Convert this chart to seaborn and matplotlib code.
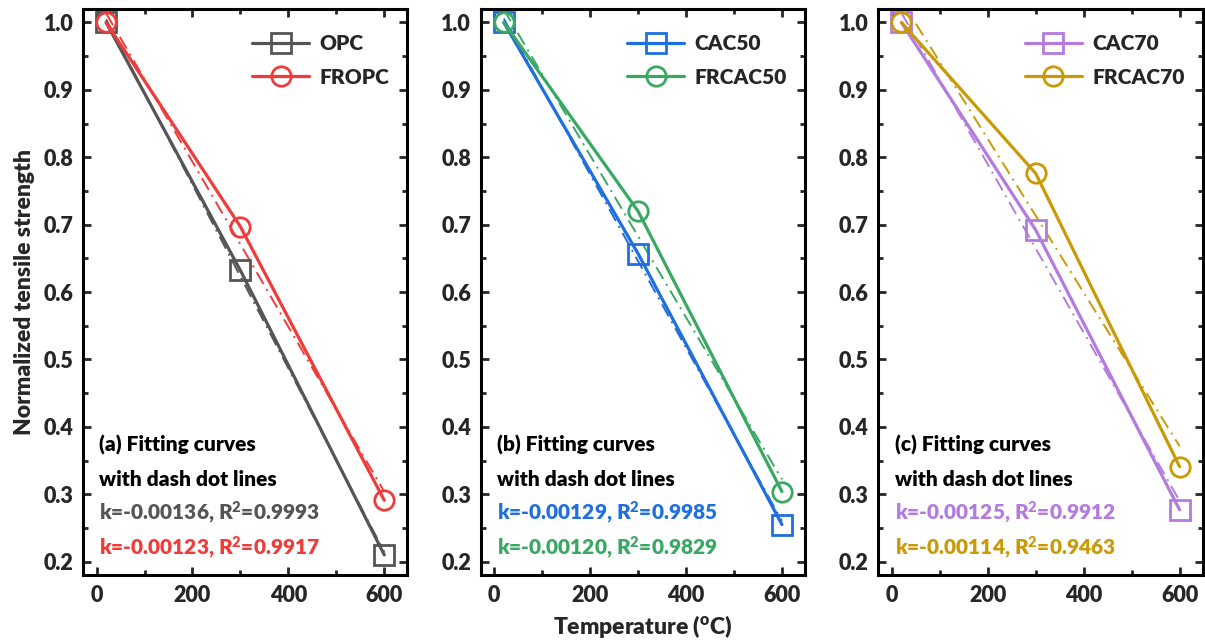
import numpy as np
import pandas as pd
import matplotlib
matplotlib.use("Agg")
import matplotlib.pyplot as plt
import seaborn as sns

# Exposure temperatures (°C)
temperature = [20, 300, 600]

# Normalized tensile strength of each mix
opc = [1.0, 0.632, 0.210]
fropc = [1.0, 0.697, 0.291]
cac50 = [1.0, 0.657, 0.255]
frcac50 = [1.0, 0.720, 0.304]
cac70 = [1.0, 0.692, 0.277]
frcac70 = [1.0, 0.776, 0.341]

# Linear fit results quoted in each panel
fit_k = {"OPC": "-0.00136", "FROPC": "-0.00123",
         "CAC50": "-0.00129", "FRCAC50": "-0.00120",
         "CAC70": "-0.00125", "FRCAC70": "-0.00114"}
fit_r2 = {"OPC": "0.9993", "FROPC": "0.9917",
          "CAC50": "0.9985", "FRCAC50": "0.9829",
          "CAC70": "0.9912", "FRCAC70": "0.9463"}

panel_titles = ["(a) Fitting curves", "(b) Fitting curves", "(c) Fitting curves"]
panel_series = [("OPC", "FROPC"), ("CAC50", "FRCAC50"), ("CAC70", "FRCAC70")]

values = {"OPC": opc, "FROPC": fropc, "CAC50": cac50,
          "FRCAC50": frcac50, "CAC70": cac70, "FRCAC70": frcac70}
colors = {"OPC": "#555555", "FROPC": "#F03B3B", "CAC50": "#1F6FDE",
          "FRCAC50": "#38A862", "CAC70": "#B47BDF", "FRCAC70": "#CA9A06"}
markers = {"OPC": "s", "FROPC": "o", "CAC50": "s",
           "FRCAC50": "o", "CAC70": "s", "FRCAC70": "o"}

rows = []
for name, ys in values.items():
    for t, v in zip(temperature, ys):
        rows.append({"series": name, "T": t, "strength": v})
df = pd.DataFrame(rows)

W = "heavy"
sns.set_theme(style="ticks")
plt.rcParams["font.family"] = ["Lato", "DejaVu Sans"]
plt.rcParams["font.weight"] = W
plt.rcParams["axes.labelweight"] = W
plt.rcParams["mathtext.fontset"] = "custom"
plt.rcParams["mathtext.rm"] = "Lato:heavy"
plt.rcParams["mathtext.bf"] = "Lato:heavy"
plt.rcParams["mathtext.it"] = "Lato:heavy"
plt.rcParams["mathtext.default"] = "rm"

fig = plt.figure(figsize=(12.05, 6.44), dpi=100)
lefts = [0.069, 0.399, 0.729]
axes = [fig.add_axes([l, 0.107, 0.269, 0.879]) for l in lefts]

for ax, title, names in zip(axes, panel_titles, panel_series):
    for name in names:
        sub = df[df["series"] == name]
        c = colors[name]
        # least-squares fit drawn as dash-dot line
        sns.regplot(data=sub, x="T", y="strength", ax=ax, scatter=False,
                    ci=None, color=c, truncate=True,
                    line_kws=dict(lw=1.4, ls=(0, (7, 3, 1, 3)), zorder=2))
        sns.lineplot(data=sub, x="T", y="strength", ax=ax, color=c,
                     marker=markers[name], markersize=14, mfc="none",
                     mec=c, mew=2.0, lw=2.3, label=name, zorder=3)

    ax.set_xlim(-28, 648)
    ax.set_ylim(0.18, 1.02)
    ax.set_xticks([0, 200, 400, 600])
    ax.set_xticks([100, 300, 500], minor=True)
    ax.set_yticks(np.arange(0.2, 1.01, 0.1))
    ax.set_yticks(np.arange(0.25, 1.0, 0.1), minor=True)
    ax.set_yticklabels([f"{v:.1f}" for v in np.arange(0.2, 1.01, 0.1)])
    ax.tick_params(which="both", direction="in", top=True, right=True,
                   width=2.0, labelsize=15.5, pad=7)
    ax.tick_params(which="major", length=6)
    ax.tick_params(which="minor", length=3.5)
    for lbl in ax.get_xticklabels() + ax.get_yticklabels():
        lbl.set_fontweight(W)
    for sp in ax.spines.values():
        sp.set_linewidth(2.2)
        sp.set_color("black")
    ax.set_xlabel("")
    ax.set_ylabel("")

    leg = ax.legend(loc="upper right", bbox_to_anchor=(0.945, 0.956),
                    frameon=False, fontsize=15, borderaxespad=0,
                    borderpad=0, handlelength=2.75, handletextpad=0.5,
                    labelspacing=0.7)
    for txt in leg.get_texts():
        txt.set_fontweight(W)

    ax.text(0.05, 0.230, title, transform=ax.transAxes, fontsize=15,
            fontweight=W, va="center", ha="left", color="black")
    ax.text(0.05, 0.168, "with dash dot lines", transform=ax.transAxes,
            fontsize=15, fontweight=W, va="center", ha="left",
            color="black")
    for ypos, name in zip([0.110, 0.048], names):
        ax.text(0.05, ypos, f"k={fit_k[name]}, R$^2$={fit_r2[name]}",
                transform=ax.transAxes, fontsize=15, fontweight=W,
                va="center", ha="left", color=colors[name])

axes[0].set_ylabel("Normalized tensile strength", fontsize=16.5,
                   fontweight=W, labelpad=6)
axes[1].set_xlabel("Temperature ($^{\\mathrm{o}}$C)", fontsize=16.5,
                   fontweight=W, labelpad=5)

fig.savefig("out.png", dpi=100)
